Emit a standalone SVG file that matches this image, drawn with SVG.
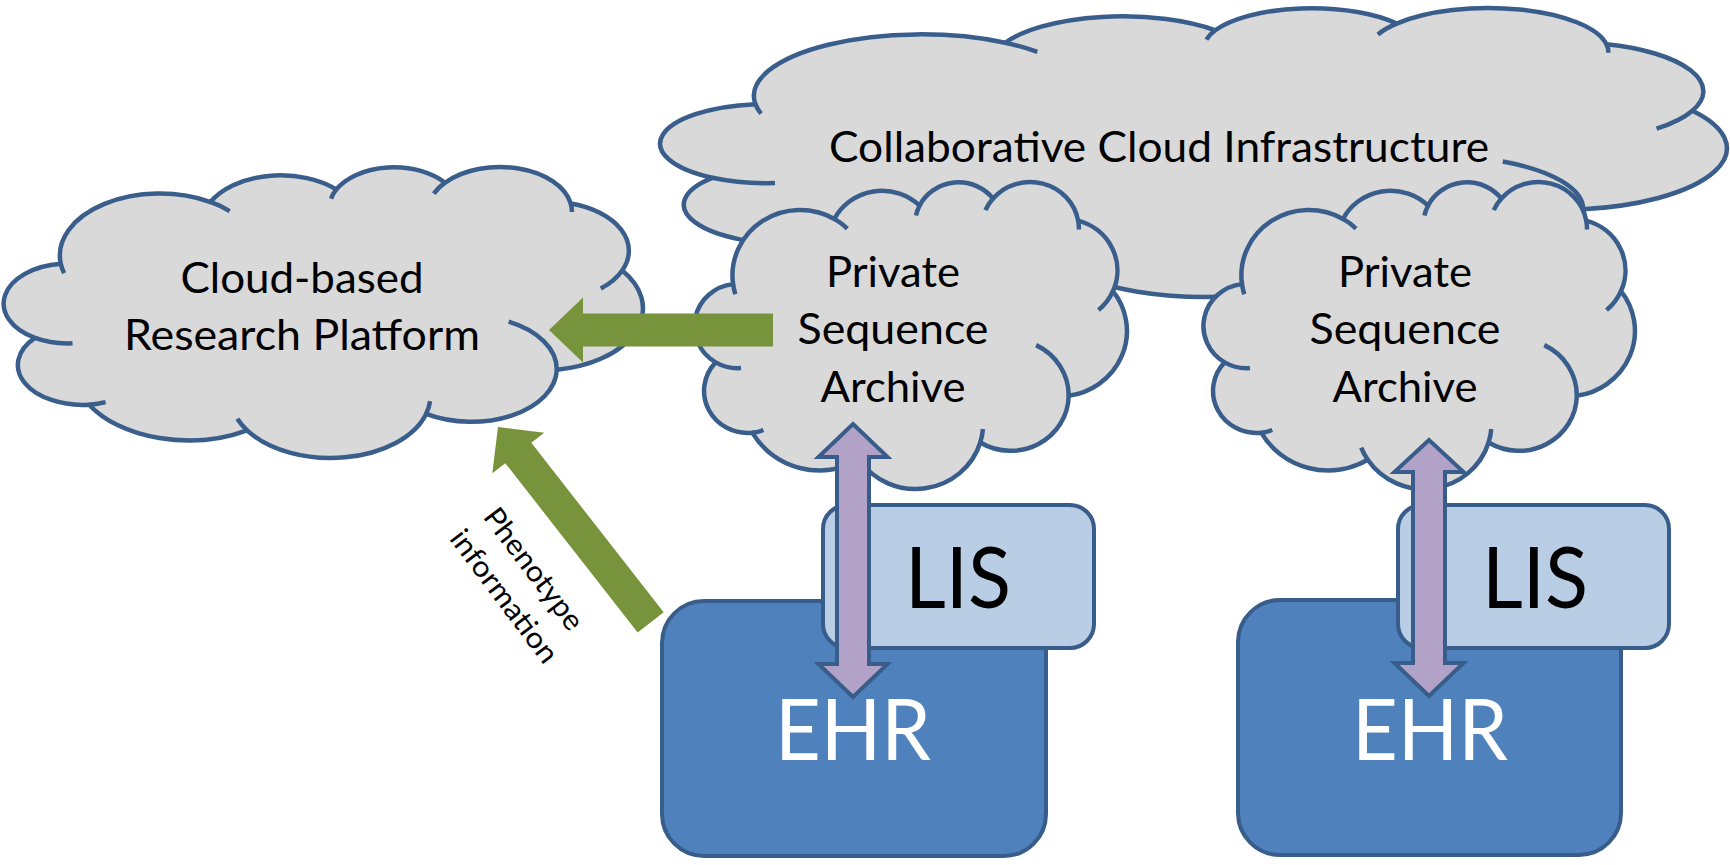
<svg xmlns="http://www.w3.org/2000/svg" xmlns:xlink="http://www.w3.org/1999/xlink" width="1730" height="865" viewBox="0 0 1730 865">
  <style>
    .cloud-body { fill: #D9D9D9; stroke: #3A5E8C; stroke-width: 4.5; stroke-linejoin: round; }
    .cloud-bumps { fill: none; stroke: #3A5E8C; stroke-width: 4.5; stroke-linecap: butt; }
    .ehr { fill: #4F81BD; stroke: #385D8A; stroke-width: 4; }
    .lis { fill: #B9CDE5; stroke: #385D8A; stroke-width: 4; }
    .flow { fill: #77933C; stroke: none; }
    .sync { fill: #B3A2C7; stroke: #385D8A; stroke-width: 4; stroke-linejoin: miter; }
    .txt { font-family: Lato, 'Liberation Sans', sans-serif; fill: #000000; text-anchor: middle; }
    .cloud-txt { font-size: 42px; }
    .big-txt { font-size: 86px; }
    .white { fill: #FFFFFF; }
    .side-txt { font-size: 29px; }
  </style>
  <defs>
    <!-- Cloud outline in a 43200 x 43200 box; scaled per instance -->
    <g id="cloudShape">
      <path class="cloud-body" vector-effect="non-scaling-stroke" d="M3900,14370 A6753,9190 0 0 1 14005,5202 A5333,7267 0 0 1 22500,3330 A4365,5945 0 0 1 29839,2331 A4857,6595 0 0 1 38324,5426 A5333,7273 0 0 1 41798,15354 A6775,9220 0 0 1 37381,30089 A5785,7867 0 0 1 28560,36660 A6752,9215 0 0 1 16478,39090 A7720,10543 0 0 1 5819,35281 A4360,5918 0 0 1 2160,25380 A4345,5945 0 0 1 3900,14370 Z"/>
      <path class="cloud-bumps" vector-effect="non-scaling-stroke" d="M4693,26177 A4345,5945 0 0 1 2160,25380 M6928,34899 A4360,5918 0 0 1 5819,35281 M16478,39090 A6752,9215 0 0 1 15817,37371 M28827,34751 A6752,9215 0 0 1 28560,36660 M34129,22954 A5785,7867 0 0 1 37381,30089 M41798,15354 A5333,7273 0 0 1 40350,18030 M38324,5426 A4857,6595 0 0 1 38400,6690 M29078,3952 A4857,6595 0 0 1 29839,2331 M22141,4720 A4365,5945 0 0 1 22500,3330 M14000,5192 A6753,9190 0 0 1 15305,6550 M4127,15789 A6753,9190 0 0 1 3900,14370"/>
    </g>
  </defs>

  <!-- Shared cloud infrastructure -->
  <g id="collab-cloud">
    <use xlink:href="#cloudShape" transform="translate(659,8) scale(0.0247222,0.0066898)"/>
    <text class="txt cloud-txt" x="1159" y="162" textLength="660" lengthAdjust="spacingAndGlyphs">Collaborative Cloud Infrastructure</text>
  </g>

  <!-- Research platform -->
  <g id="research-platform">
    <use xlink:href="#cloudShape" transform="translate(3,167) scale(0.0148148,0.0067361)"/>
    <text class="txt cloud-txt" x="302" y="293" textLength="243" lengthAdjust="spacingAndGlyphs">Cloud-based</text>
    <text class="txt cloud-txt" x="302" y="350" textLength="356" lengthAdjust="spacingAndGlyphs">Research Platform</text>
  </g>

  <!-- Private archives -->
  <g id="archive-left">
    <use xlink:href="#cloudShape" transform="translate(694,182) scale(0.0100231,0.0071065)"/>
    <text class="txt cloud-txt" x="893" y="287" textLength="134" lengthAdjust="spacingAndGlyphs">Private</text>
    <text class="txt cloud-txt" x="893" y="344" textLength="191" lengthAdjust="spacingAndGlyphs">Sequence</text>
    <text class="txt cloud-txt" x="893" y="402" textLength="145" lengthAdjust="spacingAndGlyphs">Archive</text>
  </g>
  <g id="archive-right">
    <use xlink:href="#cloudShape" transform="translate(1203,182) scale(0.01,0.0071065)"/>
    <text class="txt cloud-txt" x="1405" y="287" textLength="134" lengthAdjust="spacingAndGlyphs">Private</text>
    <text class="txt cloud-txt" x="1405" y="344" textLength="191" lengthAdjust="spacingAndGlyphs">Sequence</text>
    <text class="txt cloud-txt" x="1405" y="402" textLength="145" lengthAdjust="spacingAndGlyphs">Archive</text>
  </g>

  <!-- Hospital systems -->
  <g id="ehr-left">
    <rect class="ehr" x="662" y="601" width="384" height="255" rx="42" ry="42"/>
    <text class="txt big-txt white" x="853" y="760" textLength="156" lengthAdjust="spacingAndGlyphs">EHR</text>
  </g>
  <g id="lis-left">
    <rect class="lis" x="823" y="505" width="271" height="143" rx="24" ry="24"/>
    <text class="txt big-txt" x="958" y="608" textLength="106" lengthAdjust="spacingAndGlyphs">LIS</text>
  </g>
  <g id="ehr-right">
    <rect class="ehr" x="1238" y="600" width="383" height="255" rx="42" ry="42"/>
    <text class="txt big-txt white" x="1430" y="760" textLength="156" lengthAdjust="spacingAndGlyphs">EHR</text>
  </g>
  <g id="lis-right">
    <rect class="lis" x="1398" y="505" width="271" height="143" rx="24" ry="24"/>
    <text class="txt big-txt" x="1535" y="608" textLength="106" lengthAdjust="spacingAndGlyphs">LIS</text>
  </g>

  <!-- Data flows -->
  <g id="connectors">
    <polygon class="flow" points="549,330 583,297.5 583,313.5 773,313.5 773,346.5 583,346.5 583,362.5"/>
    <polygon class="flow" transform="translate(498,427) rotate(52)" points="0,0 33,-33 33,-16.5 248,-16.5 248,16.5 33,16.5 33,33"/>
    <polygon class="sync" points="853,424 887.5,457 869,457 869,664 887.5,664 853,697 818.5,664 837,664 837,457 818.5,457"/>
    <polygon class="sync" points="1429,440 1463.5,472 1445,472 1445,663 1463.5,663 1429,696 1394.5,663 1413,663 1413,472 1394.5,472"/>
    <g transform="translate(519,582.5) rotate(53)">
      <text class="txt side-txt" x="-2" y="-10" textLength="145" lengthAdjust="spacingAndGlyphs">Phenotype</text>
      <text class="txt side-txt" x="2" y="30" textLength="159" lengthAdjust="spacingAndGlyphs">information</text>
    </g>
  </g>
</svg>
